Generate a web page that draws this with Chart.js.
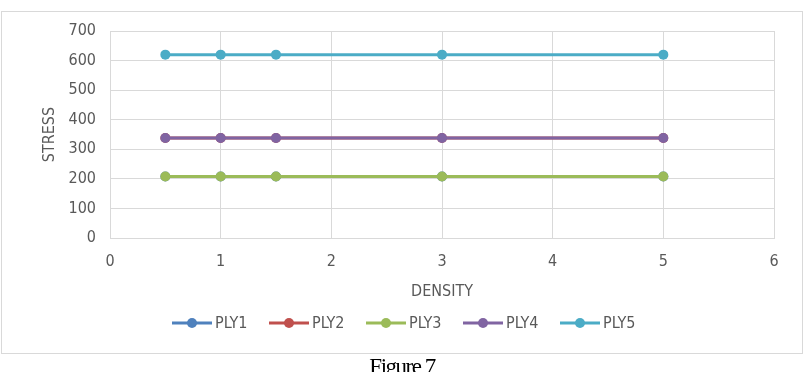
<!DOCTYPE html>
<html><head><meta charset="utf-8">
<script src="https://cdn.jsdelivr.net/npm/chart.js@4/dist/chart.umd.min.js"></script>
<style>
html,body{margin:0;padding:0;background:#fff;width:804px;height:372px;overflow:hidden;}
#frame{position:absolute;left:1px;top:11px;width:800px;height:341px;border:1px solid #d9d9d9;}
#wrap{position:absolute;left:0;top:0;width:804px;height:372px;}
#cap{position:absolute;left:0;width:804px;top:354px;text-align:center;font-family:"Liberation Serif","Times New Roman",serif;font-size:23px;letter-spacing:-1.5px;color:#000;}
</style></head>
<body>
<div id="frame"></div>
<div id="wrap"><canvas id="c" width="804" height="372"></canvas></div>
<div id="cap">Figure 7</div>
<script>
const density = [0.5, 1, 1.5, 3, 5];
const ply1 = [208, 208, 208, 208, 208];
const ply2 = [338, 338, 338, 338, 338];
const ply3 = [208, 208, 208, 208, 208];
const ply4 = [338, 338, 338, 338, 338];
const ply5 = [620, 620, 620, 620, 620];
const seriesNames = ['PLY1','PLY2','PLY3','PLY4','PLY5'];
const seriesColors = ['#4F81BD','#C0504D','#9BBB59','#8064A2','#4BACC6'];
const seriesValues = [ply1, ply2, ply3, ply4, ply5];

const FAMILY = '"DejaVu Sans",sans-serif';
const WEIGHT = 'normal condensed';
const TXT = '#595959';

const datasets = seriesValues.map((vals, i) => ({
  label: seriesNames[i],
  data: density.map((x, j) => ({x: x, y: vals[j]})),
  borderColor: seriesColors[i],
  backgroundColor: seriesColors[i],
  showLine: true,
  borderWidth: 3,
  pointRadius: 5,
  pointHoverRadius: 5,
  pointBorderWidth: 0,
  order: seriesValues.length - i
}));

const legendPlugin = {
  id: 'xlLegend',
  afterDraw(chart) {
    const ctx = chart.ctx;
    ctx.save();
    ctx.font = WEIGHT + ' 16px ' + FAMILY;
    ctx.textBaseline = 'middle';
    const y = 323;
    const lineLen = 40, gap = 3, step = 97;
    let x = 172;
    chart.data.datasets.forEach((d, i) => {
      ctx.strokeStyle = d.borderColor;
      ctx.lineWidth = 3;
      ctx.beginPath(); ctx.moveTo(x, y); ctx.lineTo(x+lineLen, y); ctx.stroke();
      ctx.fillStyle = d.borderColor;
      ctx.beginPath(); ctx.arc(x+lineLen/2, y, 5, 0, Math.PI*2); ctx.fill();
      ctx.fillStyle = TXT;
      ctx.textAlign = 'left';
      ctx.fillText(d.label, x+lineLen+gap, y+1);
      x += step;
    });
    ctx.restore();
  }
};

const f16 = { family: FAMILY, weight: WEIGHT, size: 16 };

new Chart(document.getElementById('c'), {
  type: 'scatter',
  data: { datasets },
  plugins: [legendPlugin],
  options: {
    responsive: false,
    animation: false,
    layout: { padding: { left: 36, right: 30, top: 31, bottom: 64 } },
    plugins: { legend: { display: false }, tooltip: { enabled: false } },
    scales: {
      x: {
        type: 'linear', min: 0, max: 6,
        ticks: { stepSize: 1, color: TXT, font: f16, padding: 14 },
        grid: { color: '#d9d9d9', lineWidth: 1, drawTicks: false },
        border: { color: '#d9d9d9' },
        title: { display: true, text: 'DENSITY', color: TXT, font: f16, padding: { top: 3, bottom: 7 } },
        afterFit(s) { s.height = 70; }
      },
      y: {
        type: 'linear', min: 0, max: 700,
        ticks: { stepSize: 100, color: TXT, font: f16, padding: 14 },
        grid: { color: '#d9d9d9', lineWidth: 1, drawTicks: false },
        border: { color: '#d9d9d9' },
        title: { display: true, text: 'STRESS', color: TXT, font: f16, padding: { bottom: 8 } },
        afterFit(s) { s.width = 74; }
      }
    }
  }
});
</script>
</body></html>
